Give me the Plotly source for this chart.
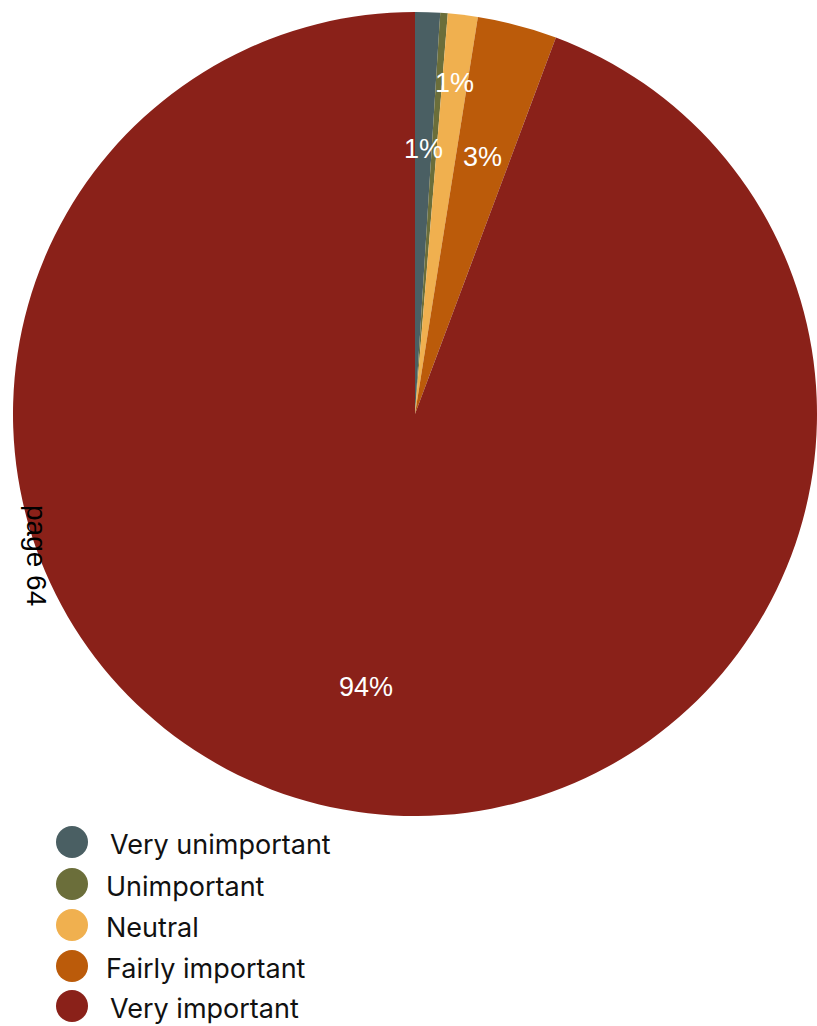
import math
import plotly.graph_objects as go

categories = ["Very unimportant", "Unimportant", "Neutral", "Fairly important", "Very important"]
values = [1.0, 0.3, 1.2, 3.2, 94.3]
slice_labels = ["1%", "", "1%", "3%", "94%"]
colors = ["#4a5f63", "#6b6e3a", "#f0b04f", "#bb5b0a", "#8a2119"]

W, H = 817, 1026
cx, cy, R = 415, 414, 402

fig = go.Figure()
fig.add_trace(go.Pie(
    labels=categories,
    values=values,
    sort=False,
    direction="clockwise",
    rotation=0,
    textinfo="none",
    hoverinfo="label+percent",
    marker=dict(colors=colors, line=dict(width=0)),
    showlegend=False,
    domain=dict(x=[(cx - R) / W, min(1.0, (cx + R) / W)],
                y=[1 - (cy + R) / H, 1 - (cy - R) / H]),
))

# slice percentage labels positioned from the data
label_r = [0.66, 0.0, 0.83, 0.66, 0.69]
total = sum(values)
cum = 0.0
annotations = []
for v, t, rf in zip(values, slice_labels, label_r):
    mid = (cum + v / 2) / total * 2 * math.pi
    cum += v
    if not t:
        continue
    px = cx + math.sin(mid) * R * rf
    py = cy - math.cos(mid) * R * rf
    annotations.append(dict(
        x=px / W, y=1 - py / H, xref="paper", yref="paper",
        text=t, showarrow=False, xanchor="center", yanchor="middle",
        font=dict(family="Liberation Sans, Arial, sans-serif", size=27, color="white"),
    ))

# rotated page note
annotations.append(dict(
    x=37 / W, y=1 - 555 / H, xref="paper", yref="paper",
    text="page 64", showarrow=False, textangle=90,
    xanchor="center", yanchor="middle",
    font=dict(family="Liberation Sans, Arial, sans-serif", size=28, color="black"),
))

# custom legend with large circles
shapes = []
leg_y = [842, 884, 925, 966, 1006]
leg_tx = [108, 104, 104, 104, 108]
for cat, col, ly, tx in zip(categories, colors, leg_y, leg_tx):
    shapes.append(dict(
        type="circle", xref="paper", yref="paper",
        xsizemode="pixel", ysizemode="pixel",
        xanchor=72 / W, yanchor=1 - ly / H,
        x0=-16, x1=16, y0=-16, y1=16,
        fillcolor=col, line=dict(width=0),
    ))
    annotations.append(dict(
        x=tx / W, y=1 - (ly + 2) / H, xref="paper", yref="paper",
        text=cat, showarrow=False, xanchor="left", yanchor="middle",
        font=dict(family="Inter, Lato, sans-serif", size=27, color="#111111"),
    ))

fig.update_layout(
    width=W, height=H,
    margin=dict(l=0, r=0, t=0, b=0),
    paper_bgcolor="white",
    plot_bgcolor="white",
    annotations=annotations,
    shapes=shapes,
)

fig.write_html(
    "out.html",
    config={"displayModeBar": False},
    post_script="document.body.style.margin='0';document.documentElement.style.overflow='hidden';",
)
